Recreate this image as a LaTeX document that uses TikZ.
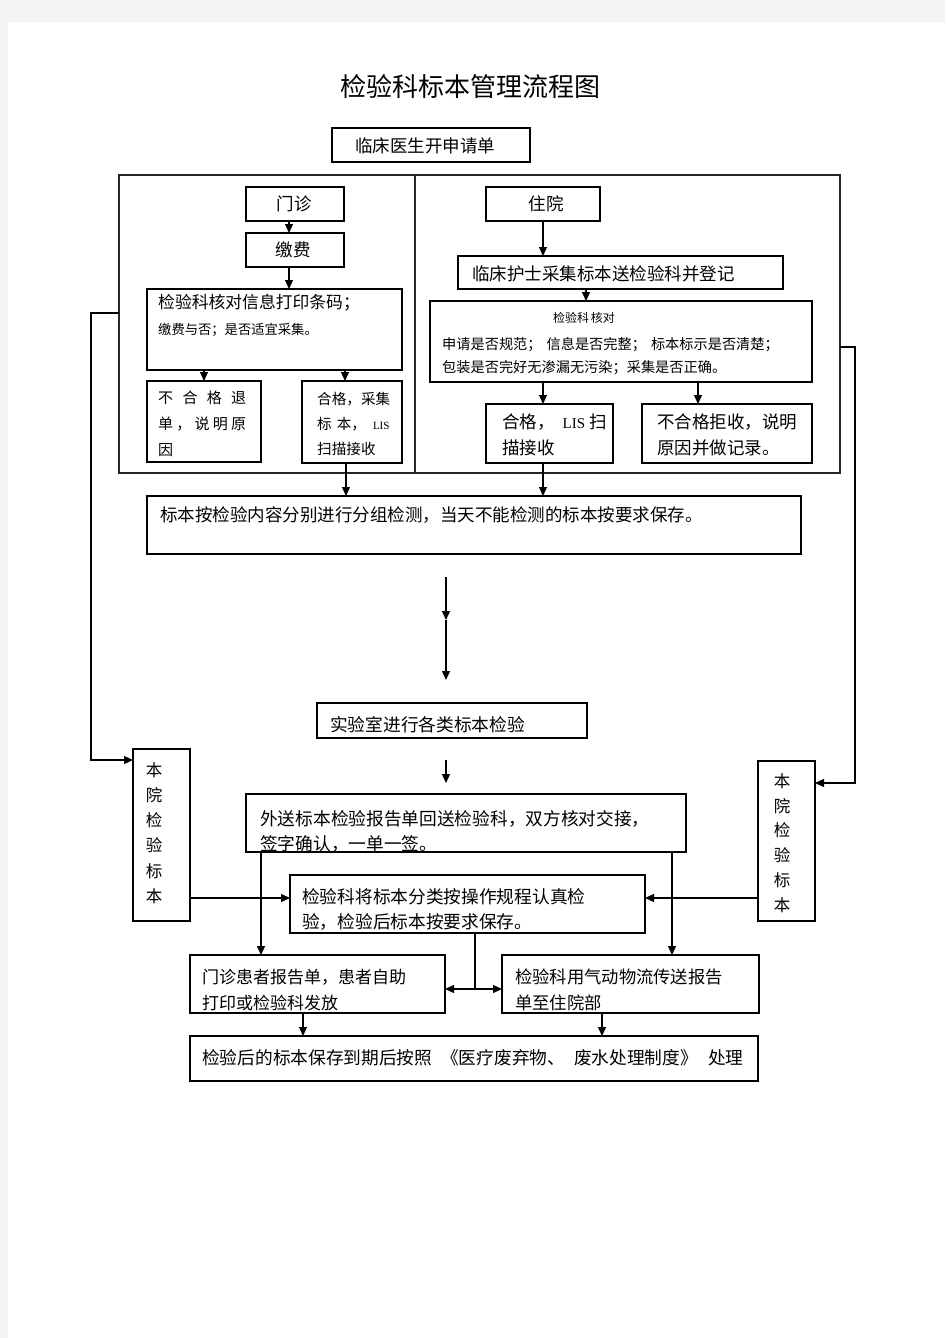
\documentclass[tikz,border=0pt]{standalone}
\usepackage{fontspec}
\newfontfamily\cjk{Noto Sans CJK SC}
\newfontfamily\lat{Liberation Serif}
\usetikzlibrary{arrows.meta}
\definecolor{pagegray}{HTML}{F4F4F4}
\begin{document}
\begin{tikzpicture}[x=1pt,y=-1pt,
 box/.style={draw=black,line width=1.2pt,inner sep=0pt,outer sep=0pt,anchor=north west},
 txt/.style={inner sep=0pt,anchor=west,align=left,text=black},
 ctr/.style={inner sep=0pt,anchor=center,align=center,text=black},
 arr/.style={line width=1.2pt,-{Triangle[length=9pt,width=8pt]}},
 ln/.style={line width=1.2pt}]
\useasboundingbox (0,0) rectangle (945,1338);
\fill[pagegray] (0,0) rectangle (945,1338);
\fill[white] (8,22) rectangle (945,1338);

% title
\node[ctr,font={\cjk\fontsize{26}{26}\selectfont}] (title) at (470,87) {检验科标本管理流程图};

% boxes
\node[box,minimum width=198pt,minimum height=34pt] (req) at (332,128) {};
\node[box,line width=1.4pt,draw=black!85,minimum width=721pt,minimum height=298pt] (frame) at (119,175) {};
\node[box,minimum width=98pt,minimum height=34pt] (mz) at (246,187) {};
\node[box,minimum width=98pt,minimum height=34pt] (jf) at (246,233) {};
\node[box,line width=1.5pt,minimum width=255pt,minimum height=81pt] (hd1) at (147,289) {};
\node[box,line width=1.5pt,minimum width=114pt,minimum height=81pt] (bhg) at (147,381) {};
\node[box,minimum width=100pt,minimum height=82pt] (hg1) at (302,381) {};
\node[box,line width=1.5pt,minimum width=114pt,minimum height=34pt] (zy) at (486,187) {};
\node[box,line width=1.5pt,minimum width=325pt,minimum height=33pt] (hs) at (458,256) {};
\node[box,minimum width=382pt,minimum height=81pt] (hd2) at (430,301) {};
\node[box,minimum width=127pt,minimum height=59pt] (hg2) at (486,404) {};
\node[box,minimum width=170pt,minimum height=59pt] (jsh) at (642,404) {};
\node[box,minimum width=654pt,minimum height=58pt] (grp) at (147,496) {};
\node[box,minimum width=270pt,minimum height=35pt] (lab) at (317,703) {};
\node[box,minimum width=57pt,minimum height=172pt] (bl) at (133,749) {};
\node[box,minimum width=57pt,minimum height=160pt] (br) at (758,761) {};
\node[box,minimum width=440pt,minimum height=58pt] (ws) at (246,794) {};
\node[box,line width=1.5pt,minimum width=355pt,minimum height=58pt] (mid) at (290,875) {};
\node[box,line width=1.5pt,minimum width=255pt,minimum height=58pt] (mzr) at (190,955) {};
\node[box,line width=1.5pt,minimum width=257pt,minimum height=58pt] (qd) at (502,955) {};
\node[box,minimum width=568pt,minimum height=45pt] (fin) at (190,1036) {};

% divider inside frame
\draw[line width=1.4pt,draw=black!85] ([xshift=296pt]frame.north west) -- ([xshift=296pt]frame.south west);

% texts
\node[txt,font={\cjk\fontsize{17.5}{26}\selectfont}] (treq) at (355,146) {临床医生开申请单};
\node[ctr,font={\cjk\fontsize{17.5}{26}\selectfont}] (tmz) at (294,204) {门诊};
\node[ctr,font={\cjk\fontsize{17.5}{26}\selectfont}] (tjf) at (293,250) {缴费};
\node[txt,font={\cjk\fontsize{16.8}{26}\selectfont}] (thd1a) at (158,303) {检验科核对信息打印条码；};
\node[txt,font={\cjk\fontsize{13.3}{26}\selectfont}] (thd1b) at (158,330) {缴费与否；是否适宜采集。};
\node[txt,font={\cjk\fontsize{15}{26}\selectfont}] (tbhg) at (158,424)
 {\makebox[88pt][l]{不\hfill 合\hfill 格\hfill 退}\\\makebox[88pt][l]{单\hfill ，\hfill 说\hfill 明\hfill 原}\\因};
\node[txt,font={\cjk\fontsize{14.6}{25}\selectfont}] (thg1) at (317,424)
 {合格，采集\\标\hspace{5pt}本，\hspace{7pt}{\lat\fontsize{11}{11}\selectfont LIS}\\扫描接收};
\node[ctr,font={\cjk\fontsize{17.5}{26}\selectfont}] (tzy) at (546,204) {住院};
\node[txt,font={\cjk\fontsize{17.5}{26}\selectfont}] (ths) at (472,274) {临床护士采集标本送检验科并登记};
\node[ctr,font={\cjk\fontsize{12}{14}\selectfont}] (thd2a) at (584,318) {检验科\hspace{2pt}核对};
\node[txt,font={\cjk\fontsize{14.2}{23}\selectfont}] (thd2b) at (442,356.5)
 {申请是否规范；\hspace{5pt}信息是否完整；\hspace{5pt}标本标示是否清楚；\\包装是否完好无渗漏无污染；采集是否正确。};
\node[txt,font={\cjk\fontsize{17.5}{26}\selectfont}] (thg2) at (502,435)
 {合格，\hspace{8pt}{\lat\fontsize{15}{15}\selectfont LIS}\hspace{4pt}扫\\描接收};
\node[txt,font={\cjk\fontsize{17.5}{26}\selectfont}] (tjsh) at (657,435) {不合格拒收，说明\\原因并做记录。};
\node[txt,font={\cjk\fontsize{17.5}{26}\selectfont}] (tgrp) at (160,515) {标本按检验内容分别进行分组检测，当天不能检测的标本按要求保存。};
\node[txt,font={\cjk\fontsize{17.7}{26}\selectfont}] (tlab) at (330,725) {实验室进行各类标本检验};
\node[ctr,font={\cjk\fontsize{16.5}{25.2}\selectfont}] (tbl) at (154,833) {本\\院\\检\\验\\标\\本};
\node[ctr,font={\cjk\fontsize{16.5}{24.8}\selectfont}] (tbr) at (782,843) {本\\院\\检\\验\\标\\本};
\node[txt,font={\cjk\fontsize{17.7}{25}\selectfont}] (tws) at (260,831.5) {外送标本检验报告单回送检验科，双方核对交接，\\签字确认，一单一签。};
\node[txt,font={\cjk\fontsize{17.7}{25}\selectfont}] (tmid) at (302,909.5) {检验科将标本分类按操作规程认真检\\验，检验后标本按要求保存。};
\node[txt,font={\cjk\fontsize{17}{26}\selectfont}] (tmzr) at (202,990) {门诊患者报告单，患者自助\\打印或检验科发放};
\node[txt,font={\cjk\fontsize{17.3}{26}\selectfont}] (tqd) at (515,990) {检验科用气动物流传送报告\\单至住院部};
\node[txt,font={\cjk\fontsize{17.7}{26}\selectfont}] (tfin) at (202,1058) {检验后的标本保存到期后按照\hspace{9pt}《医疗废弃物、\hspace{9pt}废水处理制度》\hspace{10pt}处理};

% connectors, top part
\draw[arr] ([xshift=43pt]mz.south west) -- ([xshift=43pt]jf.north west);
\draw[arr] ([xshift=43pt]jf.south west) -- ([xshift=142pt]hd1.north west);
\draw[arr] ([xshift=57pt]hd1.south west) -- ([xshift=57pt]bhg.north west);
\draw[arr] ([xshift=198pt]hd1.south west) -- ([xshift=43pt]hg1.north west);
\draw[arr] ([xshift=57pt]zy.south west) -- ([xshift=85pt]hs.north west);
\draw[arr] ([xshift=128pt]hs.south west) -- ([xshift=156pt]hd2.north west);
\draw[arr] ([xshift=113pt]hd2.south west) -- ([xshift=57pt]hg2.north west);
\draw[arr] ([xshift=268pt]hd2.south west) -- ([xshift=56pt]jsh.north west);
\draw[arr] ([xshift=44pt]hg1.south west) -- ([xshift=199pt]grp.north west);
\draw[arr] ([xshift=57pt]hg2.south west) -- ([xshift=396pt]grp.north west);

% middle arrows
\coordinate (m1) at (446,577);
\coordinate (m2) at (446,620);
\coordinate (m3) at (446,680);
\coordinate (m4) at (446,760);
\coordinate (m5) at (446,783);
\draw[arr] (m1) -- (m2);
\draw[arr] (m2) -- (m3);
\draw[arr] (m4) -- (m5);

% side loops
\draw[arr] (frame.west |- 0,313) -- (91,313) |- (bl.west |- 0,760);
\draw[arr] (frame.east |- 0,347) -- (855,347) |- (br.east |- 0,783);
\draw[arr] (bl.east |- 0,898) -- (mid.west |- 0,898);
\draw[arr] (br.west |- 0,898) -- (mid.east |- 0,898);

% lower part
\draw[arr] ([xshift=15pt]ws.south west) -- ([xshift=71pt]mzr.north west);
\draw[arr] ([xshift=-14pt]ws.south east) -- ([xshift=170pt]qd.north west);
\coordinate (jn) at (475,989);
\draw[ln] (mid.south -| jn) -- (jn);
\draw[arr] (jn) -- (mzr.east |- jn);
\draw[arr] (jn) -- (qd.west |- jn);
\draw[arr] ([xshift=113pt]mzr.south west) -- ([xshift=113pt]fin.north west);
\draw[arr] ([xshift=100pt]qd.south west) -- ([xshift=412pt]fin.north west);
\end{tikzpicture}
\end{document}
